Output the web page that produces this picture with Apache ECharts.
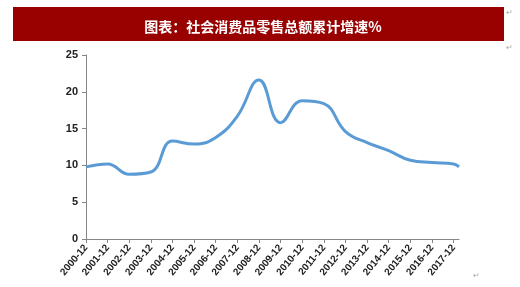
<!DOCTYPE html>
<html><head><meta charset="utf-8">
<script src="https://cdn.jsdelivr.net/npm/echarts@6/dist/echarts.min.js"></script>
<style>html,body{margin:0;padding:0;background:#fff}#c{width:520px;height:287px}</style>
</head><body><div id="c"></div>
<script>
const titleText = '图表：社会消费品零售总额累计增速%';
const xLabels = ['2000-12','2001-12','2002-12','2003-12','2004-12','2005-12','2006-12','2007-12','2008-12','2009-12','2010-12','2011-12','2012-12','2013-12','2014-12','2015-12','2016-12','2017-12'];
// position in years since 2000-12 (last point is 2018-03)
const xPos = [0,1,2,3,4,5,6,7,8,9,10,11,12,13,14,15,16,17,17.25];
const growth = [9.8,10.2,8.8,9.1,13.3,12.9,13.8,16.7,21.6,15.8,18.8,18.4,14.6,13.1,12.0,10.7,10.4,10.2,9.8];
const yTicks = [0,5,10,15,20,25];

const chart = echarts.init(document.getElementById('c'));
chart.setOption({
  animation:false,
  graphic:[
    {type:'rect',shape:{x:13,y:7,width:491,height:34},style:{fill:'#990000'},z:0},
    {type:'text',x:506,y:9,style:{text:'↵',fill:'#aaa',fontSize:8}},
    {type:'text',x:506,y:44,style:{text:'↵',fill:'#aaa',fontSize:8}},
    {type:'text',x:473,y:272,style:{text:'↵',fill:'#aaa',fontSize:8}}
  ],
  title:{text:titleText,left:258,textAlign:'center',top:15,textStyle:{color:'#fff',fontSize:14,fontWeight:'bold',fontFamily:'Noto Sans CJK SC'}},
  grid:{left:86,right:61,top:55,bottom:48,containLabel:false},
  xAxis:{type:'value',min:0,max:17.25,interval:1,
    axisLine:{lineStyle:{color:'#868686',width:1}},
    axisTick:{show:true,length:4,lineStyle:{color:'#868686'},customValues:xLabels.map((d,i)=>i)},
    axisLabel:{rotate:50,fontSize:10,fontWeight:'bold',color:'#222',margin:7,fontFamily:'Liberation Sans Narrow, Liberation Sans',
      customValues:xLabels.map((d,i)=>i),formatter:v=>xLabels[Math.round(v)]||''},
    splitLine:{show:false}},
  yAxis:{type:'value',min:yTicks[0],max:yTicks[yTicks.length-1],interval:5,
    axisLine:{show:true,lineStyle:{color:'#868686',width:1}},
    axisTick:{show:true,length:4,lineStyle:{color:'#868686'}},
    axisLabel:{fontSize:11,fontWeight:'bold',color:'#222',margin:8,fontFamily:'Liberation Sans'},
    splitLine:{show:false}},
  series:[{type:'line',data:xPos.map((x,i)=>[x,growth[i]]),smooth:0.45,showSymbol:false,
    lineStyle:{color:'#5B9BD5',width:3}}]
});
</script></body></html>
